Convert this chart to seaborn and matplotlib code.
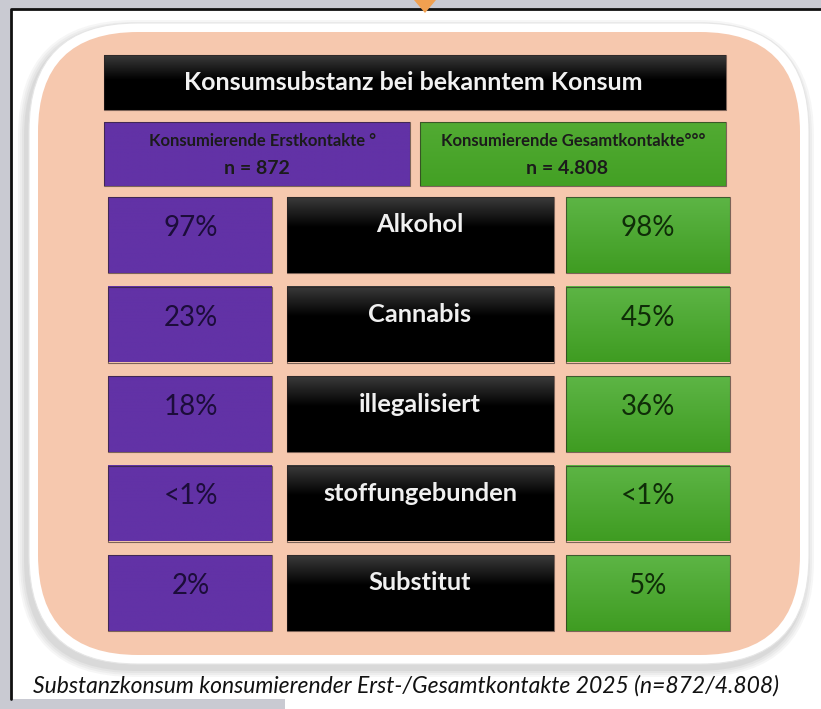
import numpy as np
import matplotlib.pyplot as plt
import matplotlib.colors as mcolors
from matplotlib.patches import FancyBboxPatch, Rectangle, Polygon
import seaborn as sns

# data
substances = ['Alkohol', 'Cannabis', 'illegalisiert', 'stoffungebunden', 'Substitut']
erst_values = ['97%', '23%', '18%', '<1%', '2%']
gesamt_values = ['98%', '45%', '36%', '<1%', '5%']
title = 'Konsumsubstanz bei bekanntem Konsum'
group_labels = ['Konsumierende Erstkontakte °', 'Konsumierende Gesamtkontakte°°°']
group_n = ['n = 872', 'n = 4.808']
caption = 'Substanzkonsum konsumierender Erst-/Gesamtkontakte 2025 (n=872/4.808)'

sns.set_theme(style='white')
plt.rcParams['font.family'] = ['Lato', 'DejaVu Sans']

PURPLE = '#6232a6'
SALMON = '#f6c8ae'
W, H = 821, 709


# function to draw a box with a vertical colour gradient
def gradient_box(ax, x0, y0, w, h, top, bottom, stop=1.0, z=3):
    t = np.linspace(0, 1, 80)
    frac = np.clip(t / stop, 0, 1)[:, None]
    c0 = np.array(mcolors.to_rgb(top))
    c1 = np.array(mcolors.to_rgb(bottom))
    img = c0 * (1 - frac) + c1 * frac
    ax.imshow(img[:, None, :], extent=(x0, x0 + w, y0 + h, y0), aspect='auto',
              interpolation='bilinear', zorder=z)
    ax.add_patch(Rectangle((x0, y0), w, h, fill=False, lw=0.8,
                           edgecolor='#2b2020', alpha=0.6, zorder=z + 0.1))


fig = plt.figure(figsize=(W / 100, H / 100), dpi=100)
fig.patch.set_facecolor('#c9cad2')
ax = fig.add_axes([0, 0, 1, 1])
ax.set_axis_off()

# white page with black frame
ax.add_patch(Rectangle((11, 9), W - 11, 690, facecolor='white', edgecolor='none', zorder=0))
ax.add_patch(Rectangle((285, 690), W - 285, H - 690, facecolor='white', edgecolor='none', zorder=0))
ax.plot([11, 11, W], [699, 9, 9], color='#111111', lw=2, zorder=1)
ax.add_patch(Polygon([[414, 0], [436, 0], [425, 13]], closed=True,
                     facecolor='#f0a050', edgecolor='none', zorder=1))

# soft shadow + white rim + salmon rounded panel
for i, a in enumerate([0.05, 0.05, 0.06, 0.07]):
    pad = 8 - i * 2
    ax.add_patch(FancyBboxPatch((29 - pad - 3, 23 - pad + 5), 780 + 2 * pad, 641 + 2 * pad,
                                boxstyle='round,pad=0,rounding_size=%d' % (108 + pad),
                                facecolor='#555555', edgecolor='none', alpha=a, zorder=1))
ax.add_patch(FancyBboxPatch((29, 23), 780, 641, boxstyle='round,pad=0,rounding_size=108',
                            facecolor='white', edgecolor='#e6e6e6', lw=0.8, zorder=1.5))
ax.add_patch(FancyBboxPatch((38, 32), 762, 623, boxstyle='round,pad=0,rounding_size=100',
                            facecolor=SALMON, edgecolor='none', zorder=2))

# title bar
gradient_box(ax, 104, 55, 622, 55, '#3a3a3a', '#000000', stop=0.45)
ax.text(413, 83, title, color='#f2f2f2', fontsize=18, fontweight='bold',
        ha='center', va='center', zorder=5)

# group headers
gradient_box(ax, 104, 122, 306, 64, PURPLE, PURPLE)
gradient_box(ax, 420, 122, 306, 64, '#52ab33', '#43a024')
for x, lab, n in zip([263, 573], group_labels, group_n):
    ax.text(x, 141, lab, color='#1b1b1b', fontsize=12, fontweight='bold',
            ha='center', va='center', zorder=5)
    ax.text(x - 6, 168, n, color='#1b1b1b', fontsize=14, fontweight='bold',
            ha='center', va='center', zorder=5)

# rows
row_top = 197
row_step = 89.5
row_h = 76
for i, (sub, ev, gv) in enumerate(zip(substances, erst_values, gesamt_values)):
    y0 = row_top + i * row_step
    gradient_box(ax, 108, y0, 164, row_h, PURPLE, PURPLE)
    gradient_box(ax, 287, y0, 267, row_h, '#3a3a3a', '#000000', stop=0.4)
    gradient_box(ax, 566, y0, 164, row_h, '#5db545', '#3f9c22')
    ax.text(191, y0 + 31, ev, color='#1c0d3a', fontsize=20,
            ha='center', va='center', zorder=5)
    ax.text(420, y0 + 28, sub, color='#f0f0f0', fontsize=18.3, fontweight='bold',
            ha='center', va='center', zorder=5)
    ax.text(648, y0 + 31, gv, color='#0f2d08', fontsize=20,
            ha='center', va='center', zorder=5)

# caption
ax.text(406, 686, caption, color='#111111', fontsize=16.5, style='italic',
        ha='center', va='center', zorder=5)

ax.set_xlim(0, W)
ax.set_ylim(H, 0)
fig.savefig('out.png', dpi=100, facecolor=fig.get_facecolor())
